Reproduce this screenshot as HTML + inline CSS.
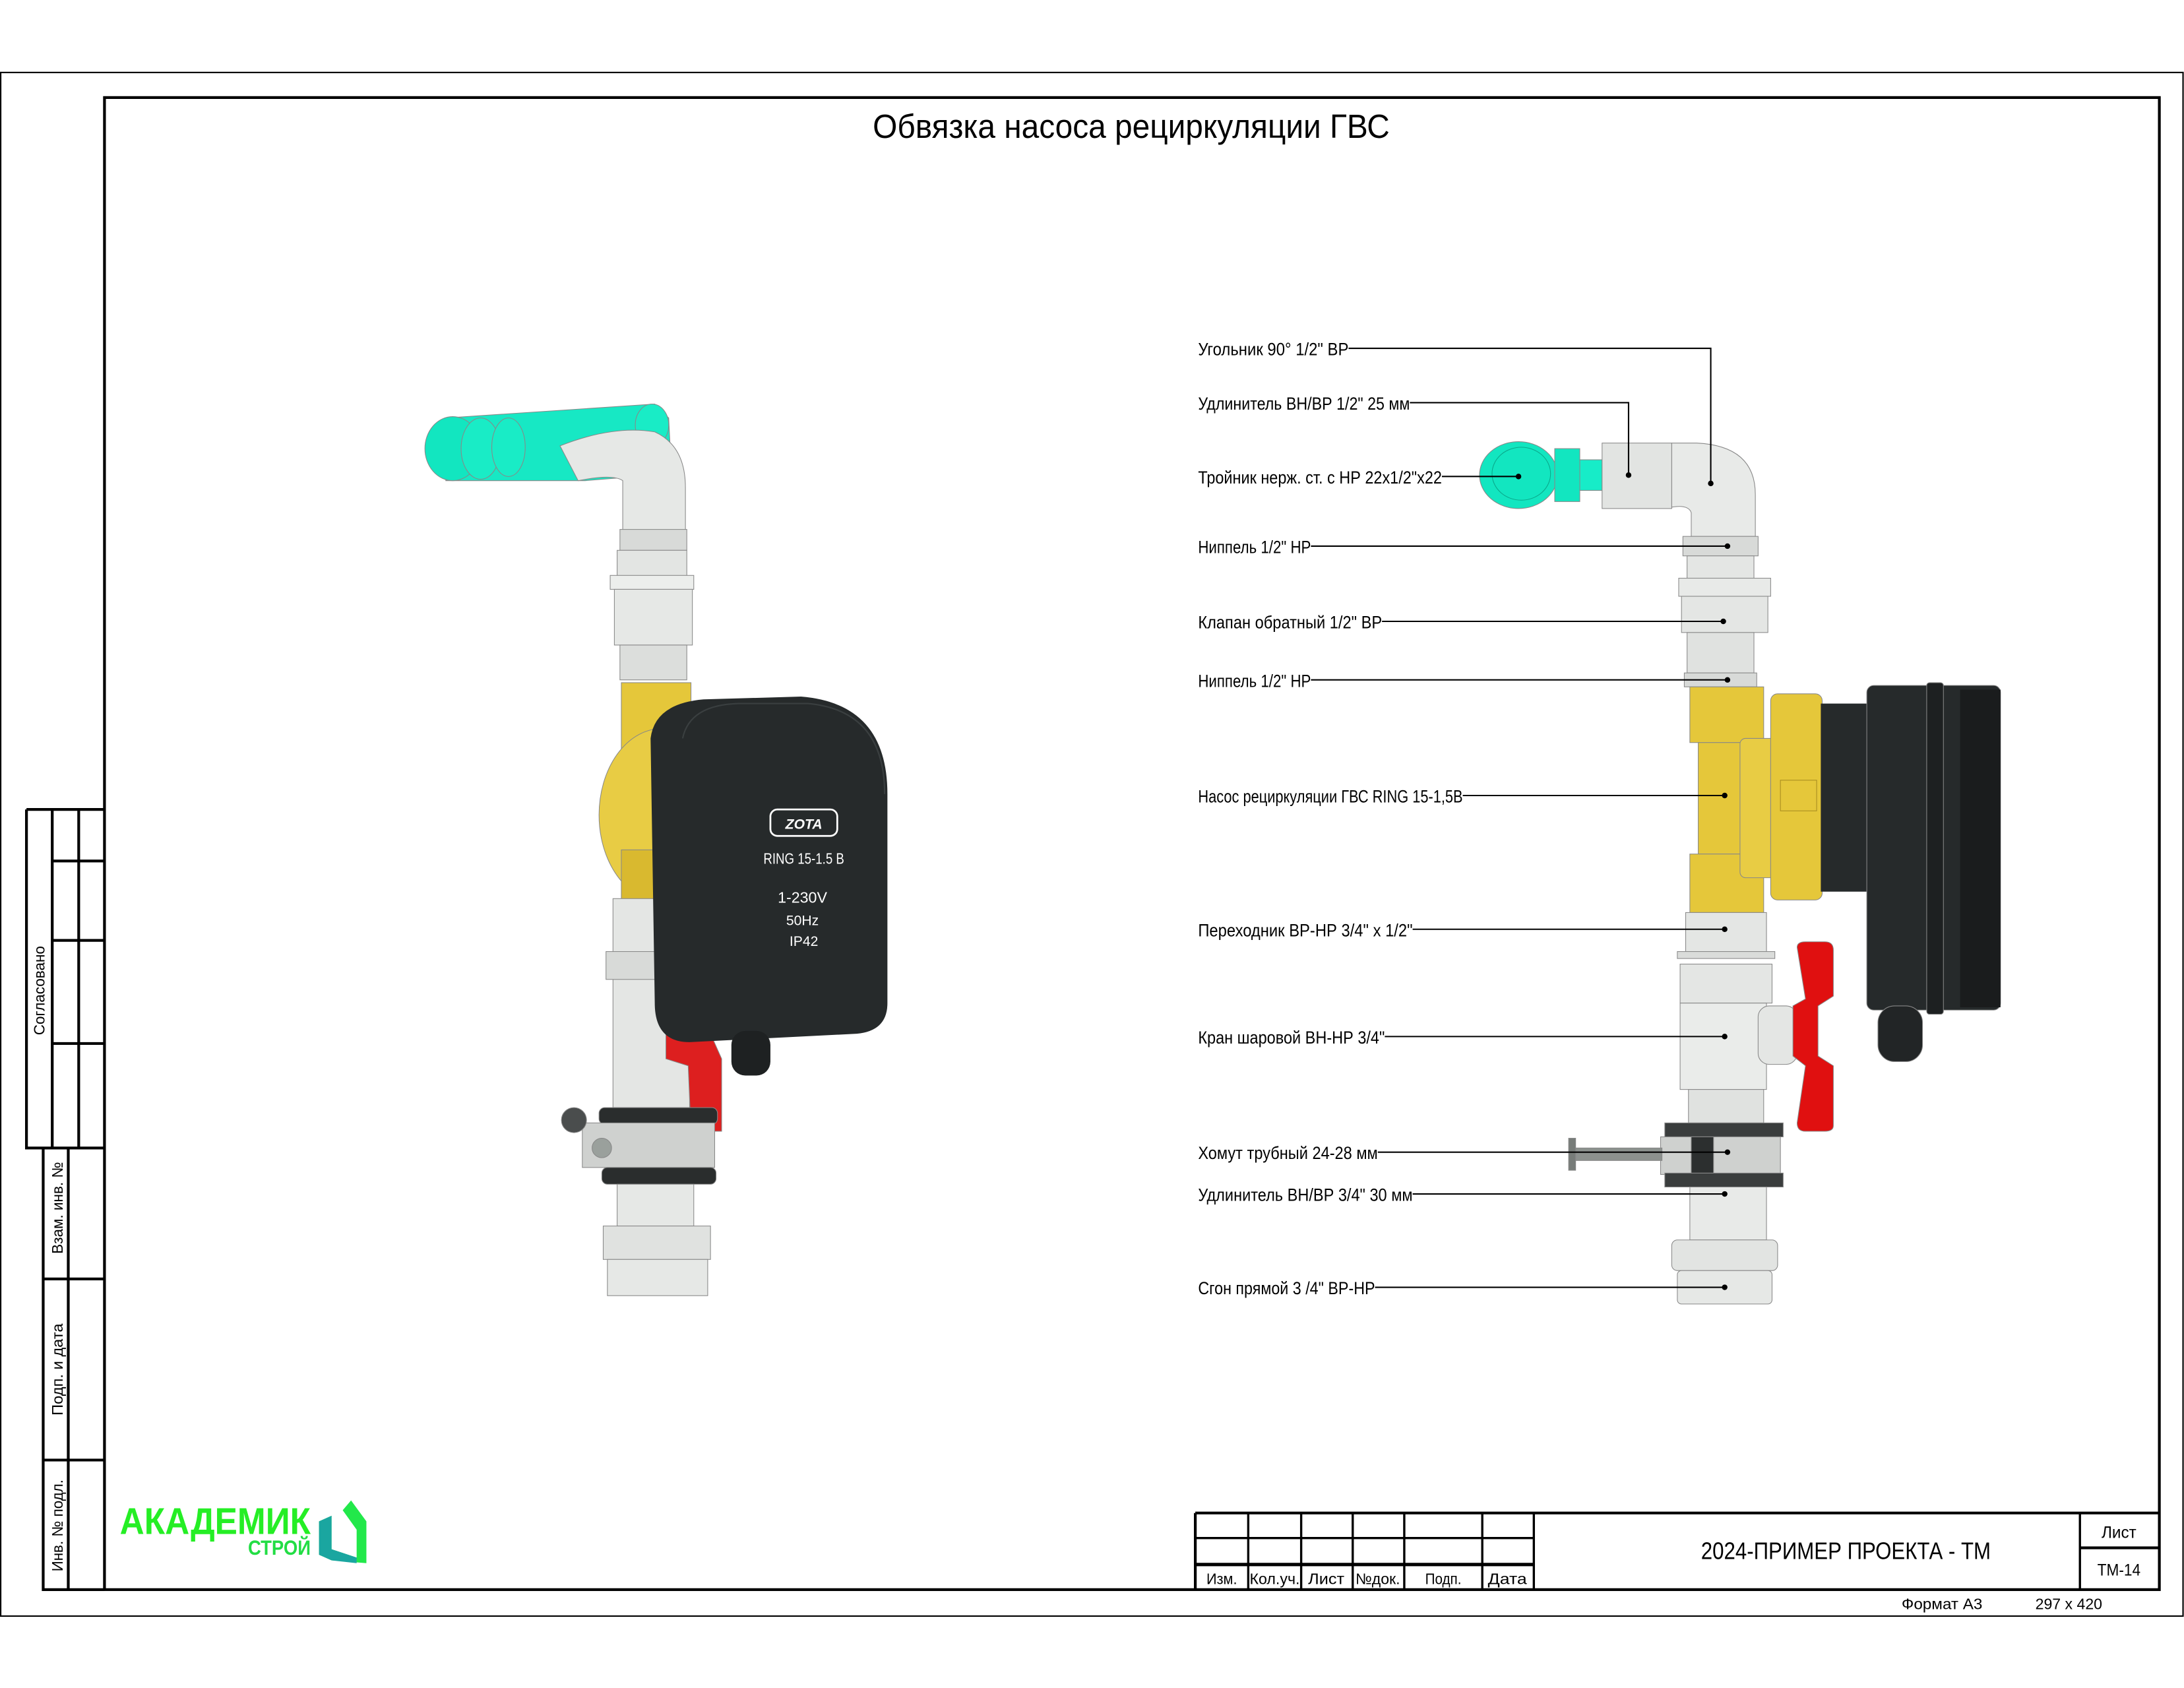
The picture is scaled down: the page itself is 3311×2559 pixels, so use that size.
<!DOCTYPE html>
<html><head><meta charset="utf-8"><style>
html,body{margin:0;padding:0;background:#fff;}
svg{display:block;}
text{font-family:"Liberation Sans Narrow","Liberation Sans",sans-serif;fill:#000;}
</style></head><body>
<svg width="3311" height="2559" viewBox="0 0 1567.7 1211.6" xmlns="http://www.w3.org/2000/svg">
<rect width="1567.7" height="1211.6" fill="#fff"/>
<rect x="0.5" y="52" width="1566.5" height="1108" fill="none" stroke="#000" stroke-width="1"/>
<rect x="75" y="70" width="1475" height="1071" fill="none" stroke="#000" stroke-width="2"/>
<text x="812" y="99" font-size="24" text-anchor="middle" textLength="371" lengthAdjust="spacingAndGlyphs">Обвязка насоса рециркуляции ГВС</text>

<g stroke="#000" stroke-width="2" fill="none">
<path d="M19 581 H75 M19 581 V824 H75 M37.5 581 V824 M56.5 581 V824 M37.5 618 H75 M37.5 675 H75 M37.5 749 H75"/>
<path d="M31 824 V1141 H75 M49 824 V1141 M31 918 H75 M31 1048 H75"/>
</g>
<g font-size="11">
<text transform="translate(32,711) rotate(-90)" text-anchor="middle" textLength="64" lengthAdjust="spacingAndGlyphs">Согласовано</text>
<text transform="translate(45,867) rotate(-90)" text-anchor="middle" textLength="66" lengthAdjust="spacingAndGlyphs">Взам. инв. №</text>
<text transform="translate(45,983) rotate(-90)" text-anchor="middle" textLength="66" lengthAdjust="spacingAndGlyphs">Подп. и дата</text>
<text transform="translate(45,1095) rotate(-90)" text-anchor="middle" textLength="66" lengthAdjust="spacingAndGlyphs">Инв. № подл.</text>
</g>

<text x="86" y="1101" font-size="27" font-weight="bold" style="fill:#25ee25;font-family:'Liberation Sans',sans-serif" textLength="137" lengthAdjust="spacingAndGlyphs">АКАДЕМИК</text>
<text x="178" y="1116" font-size="15" font-weight="bold" style="fill:#22dd44;font-family:'Liberation Sans',sans-serif" textLength="45" lengthAdjust="spacingAndGlyphs">СТРОЙ</text>
<path d="M229 1092 L238 1088 L238 1112 L256 1118 L256 1098 L246 1084 L252 1077 L263 1092 L263 1122 L238 1120 L229 1116 Z" fill="#22e84a"/>
<path d="M229 1092 L238 1088 L238 1112 L256 1118 L256 1122 L238 1120 L229 1116 Z" fill="#1aa6a0"/>

<g stroke="#000" fill="none">
<path d="M858 1086 H1550 M858 1141 V1086" stroke-width="2"/>
<path d="M896 1086 V1141 M934 1086 V1141 M971 1086 V1141 M1008 1086 V1141 M1064 1086 V1141 M1101 1086 V1141 M1493 1086 V1141" stroke-width="1.6"/>
<path d="M858 1104 H1101" stroke-width="1.6"/>
<path d="M858 1123 H1101" stroke-width="2.4"/>
<path d="M1493 1111 H1550" stroke-width="2"/>
</g>
<g font-size="11" text-anchor="middle">
<text x="877" y="1137" textLength="22" lengthAdjust="spacingAndGlyphs">Изм.</text><text x="915" y="1137" textLength="36" lengthAdjust="spacingAndGlyphs">Кол.уч.</text><text x="952" y="1137" textLength="26" lengthAdjust="spacingAndGlyphs">Лист</text>
<text x="989" y="1137" textLength="32" lengthAdjust="spacingAndGlyphs">№док.</text><text x="1036" y="1137" textLength="26" lengthAdjust="spacingAndGlyphs">Подп.</text><text x="1082" y="1137" textLength="28" lengthAdjust="spacingAndGlyphs">Дата</text>
<text x="1325" y="1119" font-size="17" textLength="208" lengthAdjust="spacingAndGlyphs">2024-ПРИМЕР ПРОЕКТА - ТМ</text>
<text x="1521" y="1104" font-size="12" textLength="25" lengthAdjust="spacingAndGlyphs">Лист</text>
<text x="1521" y="1131" font-size="12" textLength="31" lengthAdjust="spacingAndGlyphs">ТМ-14</text>
<text x="1394" y="1155" textLength="58" lengthAdjust="spacingAndGlyphs">Формат А3</text>
<text x="1485" y="1155" textLength="48" lengthAdjust="spacingAndGlyphs">297 x 420</text>
</g>

<g stroke="#888" stroke-width="0.5">
<path d="M320 300 L470 290 L480 300 L482 340 L420 345 L320 345 Z" fill="#17e8c4"/>
<ellipse cx="325" cy="322" rx="20" ry="23" fill="#12e6c0"/>
<ellipse cx="345" cy="322" rx="14" ry="22" fill="#19ecc6"/>
<ellipse cx="365" cy="321" rx="12" ry="21" fill="#19ecc6"/>
<ellipse cx="468" cy="305" rx="12" ry="15" fill="#19ecc6"/>
<path d="M402 320 Q440 305 470 310 Q492 320 492 350 V385 H447 V345 Q440 340 415 345 Z" fill="#e6e8e6"/>
<rect x="445" y="380" width="48" height="15" fill="#d8dad8"/>
<rect x="443" y="395" width="50" height="20" fill="#e3e5e3"/>
<rect x="438" y="413" width="60" height="10" fill="#eceeec"/>
<rect x="441" y="423" width="56" height="40" fill="#e6e8e6"/>
<rect x="445" y="463" width="48" height="25" fill="#dcdedc"/>
<rect x="446" y="490" width="50" height="60" fill="#e5c73a"/>
<ellipse cx="475" cy="585" rx="45" ry="62" fill="#e8cc44"/>
<rect x="446" y="610" width="30" height="40" fill="#d9b92f"/>
<rect x="440" y="645" width="55" height="150" fill="#e4e6e4"/>
<rect x="435" y="683" width="60" height="20" fill="#d8dad8"/>
<path d="M478 738 L510 742 L518 760 L518 812 L496 812 L494 765 L478 760 Z" fill="#dd1f1f"/>
<rect x="430" y="795" width="85" height="12" fill="#2a2d2d" rx="4"/>
<rect x="418" y="806" width="95" height="32" fill="#cfd1cf"/>
<rect x="432" y="838" width="82" height="12" fill="#2a2d2d" rx="4"/>
<circle cx="412" cy="804" r="9" fill="#4a4d4d"/>
<circle cx="432" cy="824" r="7" fill="#9aa09c"/>
<rect x="443" y="850" width="55" height="30" fill="#e6e8e6"/>
<rect x="433" y="880" width="77" height="24" fill="#e0e2e0"/>
<rect x="436" y="904" width="72" height="26" fill="#e6e8e6"/>
</g>
<path d="M467 530 Q470 505 505 502 L575 500 Q637 505 637 570 L637 720 Q637 740 615 742 L495 748 Q470 748 470 720 Z" fill="#262a2b"/>
<path d="M490 530 Q495 506 530 505 L580 505 Q635 510 635 570" fill="none" stroke="#3a3f40" stroke-width="1"/>
<rect x="525" y="740" width="28" height="32" rx="10" fill="#1e2122"/>
<rect x="553" y="581" width="48" height="19" rx="5" fill="none" stroke="#fff" stroke-width="1.3"/>
<g text-anchor="middle">
<text x="577" y="595" font-size="10" font-weight="bold" font-style="italic" style="fill:#fff">ZOTA</text>
<text x="577" y="620" font-size="11" style="fill:#fff" textLength="58" lengthAdjust="spacingAndGlyphs">RING 15-1.5 B</text>
<text x="576" y="648" font-size="11" style="fill:#fff">1-230V</text>
<text x="576" y="664" font-size="10" style="fill:#fff">50Hz</text>
<text x="577" y="679" font-size="10" style="fill:#fff">IP42</text>
</g>

<g stroke="#888" stroke-width="0.5">
<ellipse cx="1090" cy="341" rx="28" ry="24" fill="#12e6c0"/>
<ellipse cx="1092" cy="340" rx="21" ry="19" fill="none" stroke="#0aa88a"/>
<rect x="1116" y="322" width="18" height="38" fill="#12e6c0"/>
<rect x="1134" y="330" width="16" height="22" fill="#17ecc8"/>
<rect x="1150" y="318" width="50" height="47" fill="#e2e4e2"/>
<path d="M1200 318 H1218 Q1260 320 1260 355 V385 H1214 V368 Q1212 362 1200 364 Z" fill="#e8eae8"/>
<rect x="1208" y="385" width="54" height="14" fill="#d8dad8"/>
<rect x="1211" y="399" width="48" height="16" fill="#e4e6e4"/>
<rect x="1205" y="415" width="66" height="13" fill="#e8eae8"/>
<rect x="1207" y="428" width="62" height="26" fill="#e4e6e4"/>
<rect x="1211" y="454" width="48" height="29" fill="#e0e2e0"/>
<rect x="1209" y="483" width="52" height="10" fill="#d8dad8"/>
<rect x="1213" y="493" width="53" height="40" fill="#e5c73a"/>
<rect x="1219" y="533" width="40" height="80" fill="#e5c73a"/>
<rect x="1213" y="613" width="53" height="42" fill="#e5c73a"/>
<rect x="1249" y="530" width="26" height="100" rx="4" fill="#e8cc44"/>
<rect x="1271" y="498" width="37" height="148" rx="5" fill="#e5c73a"/>
<rect x="1278" y="560" width="26" height="22" fill="none" stroke="#a88c20"/>
<rect x="1307" y="505" width="40" height="135" fill="#262a2b" stroke="none"/>
<rect x="1340" y="492" width="96" height="233" rx="5" fill="#262a2b"/>
<rect x="1383" y="490" width="12" height="238" rx="2" fill="#1d2021"/>
<rect x="1407" y="495" width="29" height="228" fill="#1a1c1d" stroke="none"/>
<rect x="1348" y="722" width="32" height="40" rx="12" fill="#222526"/>
<rect x="1210" y="655" width="58" height="28" fill="#e4e6e4"/>
<rect x="1204" y="683" width="70" height="5" fill="#dadcda"/>
<rect x="1206" y="692" width="66" height="28" fill="#e4e6e4"/>
<rect x="1206" y="720" width="62" height="62" fill="#eaecea"/>
<rect x="1262" y="722" width="28" height="42" rx="8" fill="#e4e6e4"/>
<path d="M1290 680 Q1290 676 1296 676 H1310 Q1316 676 1316 682 V715 L1305 722 V758 L1316 765 V808 Q1316 812 1310 812 H1296 Q1290 812 1290 806 L1296 765 L1287 758 V722 L1296 717 Z" fill="#e01010"/>
<rect x="1212" y="782" width="54" height="24" fill="#e0e2e0"/>
<rect x="1195" y="806" width="85" height="10" fill="#3a3d3d"/>
<rect x="1192" y="816" width="86" height="27" fill="#cfd1cf"/>
<rect x="1195" y="842" width="85" height="10" fill="#3a3d3d"/>
<rect x="1214" y="816" width="16" height="26" fill="#2c2f2f"/>
<rect x="1131" y="824" width="62" height="9" fill="#8c918e"/>
<rect x="1126" y="817" width="5" height="23" fill="#777c79"/>
<rect x="1213" y="852" width="55" height="38" fill="#e8eae8"/>
<rect x="1200" y="890" width="76" height="22" rx="4" fill="#e2e4e2"/>
<rect x="1204" y="912" width="68" height="24" rx="3" fill="#e6e8e6"/>
</g>

<g stroke="#000" stroke-width="1" fill="none">
<path d="M968 250 H1228 V347"/>
<path d="M1012 289 H1169 V341"/>
<path d="M1035 342 H1090"/>
<path d="M941 392 H1240"/>
<path d="M992 446 H1237"/>
<path d="M941 488 H1240"/>
<path d="M1050 571 H1238"/>
<path d="M1014 667 H1238"/>
<path d="M994 744 H1238"/>
<path d="M989 827 H1240"/>
<path d="M1014 857 H1238"/>
<path d="M987 924 H1238"/>
</g>
<g fill="#000">
<circle cx="1228" cy="347" r="2"/><circle cx="1169" cy="341" r="2"/><circle cx="1090" cy="342" r="2"/>
<circle cx="1240" cy="392" r="2"/><circle cx="1237" cy="446" r="2"/><circle cx="1240" cy="488" r="2"/>
<circle cx="1238" cy="571" r="2"/><circle cx="1238" cy="667" r="2"/><circle cx="1238" cy="744" r="2"/>
<circle cx="1240" cy="827" r="2"/><circle cx="1238" cy="857" r="2"/><circle cx="1238" cy="924" r="2"/>
</g>
<g font-size="12.5">
<text x="860" y="255" textLength="108" lengthAdjust="spacingAndGlyphs">Угольник 90° 1/2" ВР</text>
<text x="860" y="294" textLength="152" lengthAdjust="spacingAndGlyphs">Удлинитель ВН/ВР 1/2" 25 мм</text>
<text x="860" y="347" textLength="175" lengthAdjust="spacingAndGlyphs">Тройник нерж. ст. с НР 22х1/2"х22</text>
<text x="860" y="397" textLength="81" lengthAdjust="spacingAndGlyphs">Ниппель 1/2" НР</text>
<text x="860" y="451" textLength="132" lengthAdjust="spacingAndGlyphs">Клапан обратный 1/2" ВР</text>
<text x="860" y="493" textLength="81" lengthAdjust="spacingAndGlyphs">Ниппель 1/2" НР</text>
<text x="860" y="576" textLength="190" lengthAdjust="spacingAndGlyphs">Насос рециркуляции ГВС RING 15-1,5В</text>
<text x="860" y="672" textLength="154" lengthAdjust="spacingAndGlyphs">Переходник ВР-НР 3/4" х 1/2"</text>
<text x="860" y="749" textLength="134" lengthAdjust="spacingAndGlyphs">Кран шаровой ВН-НР 3/4"</text>
<text x="860" y="832" textLength="129" lengthAdjust="spacingAndGlyphs">Хомут трубный 24-28 мм</text>
<text x="860" y="862" textLength="154" lengthAdjust="spacingAndGlyphs">Удлинитель ВН/ВР 3/4" 30 мм</text>
<text x="860" y="929" textLength="127" lengthAdjust="spacingAndGlyphs">Сгон прямой 3 /4" ВР-НР</text>
</g>
</svg>
</body></html>
